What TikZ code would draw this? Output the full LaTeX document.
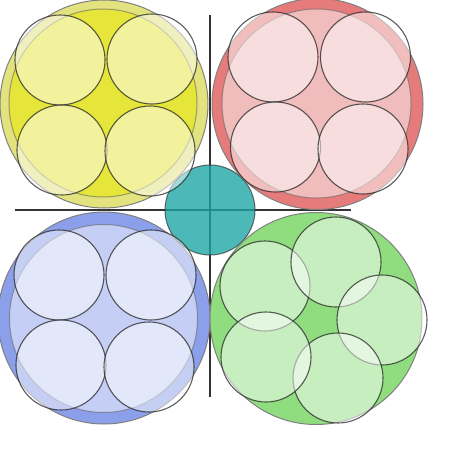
\documentclass[tikz,border=0pt]{standalone}
\usepackage{xcolor}
\definecolor{yOut}{HTML}{E2E27E}
\definecolor{yIn}{HTML}{E5E53A}
\definecolor{rOut}{HTML}{E57B7B}
\definecolor{rIn}{HTML}{F0BCBC}
\definecolor{bOut}{HTML}{8B9FEA}
\definecolor{bIn}{HTML}{C5CFF5}
\definecolor{gOut}{HTML}{90DD80}
\definecolor{teal1}{HTML}{1AA5A5}
\definecolor{axisc}{HTML}{333333}
\tikzset{
  axisline/.style={draw=axisc, line width=2pt},
  outerc/.style={draw=black!50, line width=1pt},
  innerc/.style={draw=black!60, draw opacity=0.6, line width=1pt},
  smallc/.style={fill=white, fill opacity=0.5, draw=black!85, draw opacity=0.75, line width=1.1pt},
  tealc/.style={fill=teal1, fill opacity=0.78, draw=black!80, draw opacity=0.7, line width=1pt},
}
\begin{document}
\begin{tikzpicture}[x=1pt,y=-1pt]
\useasboundingbox[fill=white] (0,0) rectangle (450,450);
% axes
\coordinate (hl) at (15,210);
\coordinate (hr) at (351,210);
\coordinate (vt) at (210,15);
\coordinate (vb) at (210,397);
\draw[axisline] (hl) -- (hr);
\draw[axisline] (vt) -- (vb);
% centre teal
\path[tealc] (210,210) circle[radius=45pt];
% yellow
\path[outerc, fill=yOut] (104,104) circle[radius=104pt];
\path[innerc, fill=yIn] (103,103) circle[radius=94pt];
\path[smallc] (60,60) circle[radius=45pt];
\path[smallc] (152,59) circle[radius=45pt];
\path[smallc] (62,150) circle[radius=45pt];
\path[smallc] (150,151) circle[radius=45pt];
% red
\path[outerc, fill=rOut] (317.5,104) circle[radius=105.5pt];
\path[innerc, fill=rIn] (316.5,103.5) circle[radius=94.5pt];
\path[smallc] (273,57) circle[radius=45pt];
\path[smallc] (365.5,57) circle[radius=45pt];
\path[smallc] (275.5,147) circle[radius=45pt];
\path[smallc] (363,149) circle[radius=45pt];
% blue
\path[outerc, fill=bOut] (104,318) circle[radius=106pt];
\path[innerc, fill=bIn] (103.5,318.5) circle[radius=94pt];
\path[smallc] (59,275) circle[radius=45pt];
\path[smallc] (151,275) circle[radius=45pt];
\path[smallc] (61,365) circle[radius=45pt];
\path[smallc] (149,367) circle[radius=45pt];
% green
\path[outerc, fill=gOut] (316,318.5) circle[radius=106pt];
\path[smallc] (265,286) circle[radius=45pt];
\path[smallc] (336,262) circle[radius=45pt];
\path[smallc] (382,320) circle[radius=45pt];
\path[smallc] (338,378) circle[radius=45pt];
\path[smallc] (266,357) circle[radius=45pt];
\end{tikzpicture}
\end{document}
